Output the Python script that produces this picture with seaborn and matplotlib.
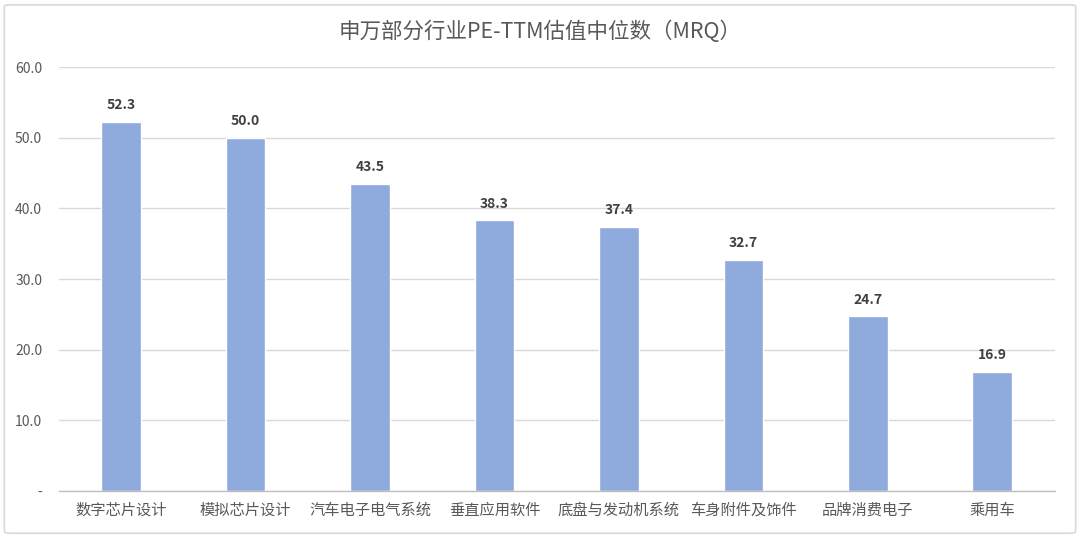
import matplotlib
matplotlib.use("Agg")
import matplotlib.pyplot as plt
import seaborn as sns
import pandas as pd
from matplotlib.patches import FancyBboxPatch

categories = ["数字芯片设计", "模拟芯片设计", "汽车电子电气系统", "垂直应用软件",
              "底盘与发动机系统", "车身附件及饰件", "品牌消费电子", "乘用车"]
values = [52.3, 50.0, 43.5, 38.3, 37.4, 32.7, 24.7, 16.9]
yticks = [0, 10, 20, 30, 40, 50, 60]
ytick_labels = ["-", "10.0", "20.0", "30.0", "40.0", "50.0", "60.0"]
title = "申万部分行业PE-TTM估值中位数（MRQ）"

sns.set_theme(style="white")
plt.rcParams['font.family'] = ['Noto Sans CJK SC', 'DejaVu Sans']

df = pd.DataFrame({"cat": categories, "val": values})

fig = plt.figure(figsize=(10.8, 5.37), dpi=100)
ax = fig.add_axes([0.0545, 0.0857, 0.922, 0.7893])

sns.barplot(data=df, x="cat", y="val", color="#8FAADC", saturation=1, width=0.32, ax=ax)

ax.set_ylim(0, 60)
ax.set_yticks(yticks)
ax.set_yticklabels(ytick_labels)
ax.yaxis.grid(True, color="#D9D9D9", linewidth=1)
ax.set_axisbelow(True)
ax.set_xlabel("")
ax.set_ylabel("")
for s in ["top", "right", "left"]:
    ax.spines[s].set_visible(False)
ax.spines["bottom"].set_color("#BFBFBF")
ax.spines["bottom"].set_linewidth(1)
ax.tick_params(axis="x", length=0, pad=8, labelsize=11, labelcolor="#595959")
ax.tick_params(axis="y", length=0, pad=12, labelsize=10, labelcolor="#595959")

for c in ax.containers:
    ax.bar_label(c, labels=[f"{v:.1f}" for v in values], padding=7,
                 fontsize=10, fontweight="bold", color="#404040")

fig.text(0.5, 0.94, title, ha="center", va="center", fontsize=15.5, color="#595959")

border = FancyBboxPatch((0.004, 0.007), 0.992, 0.984, boxstyle="round,pad=0,rounding_size=0.004",
                        transform=fig.transFigure, fill=False, edgecolor="#D9D9D9", linewidth=1.2)
fig.add_artist(border)

fig.savefig("out.png", dpi=100)
